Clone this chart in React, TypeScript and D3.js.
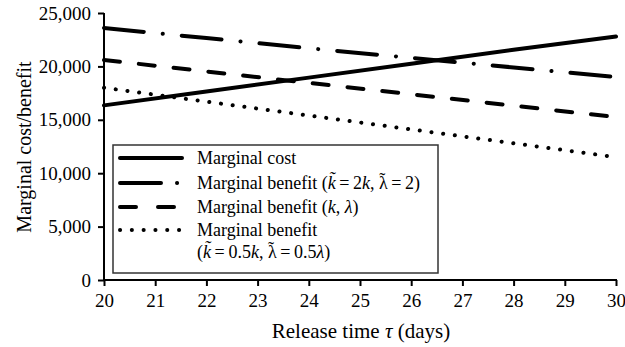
import React, { useRef, useEffect } from "react"
import * as d3 from "d3"

// release time (days)
const days = [20, 22, 24, 26, 28, 30]
const marginalCost = [16350, 17650, 18950, 20250, 21550, 22800]
const benefitHigh = [23600, 22650, 21700, 20800, 19900, 19000]
const benefitBase = [20600, 19530, 18460, 17390, 16320, 15250]
const benefitLow = [18000, 16700, 15400, 14100, 12800, 11500]

const xTicks = [20, 21, 22, 23, 24, 25, 26, 27, 28, 29, 30]
const yTicks = [0, 5000, 10000, 15000, 20000, 25000]

const W = 625
const H = 347
const margin = { left: 104, right: 9, top: 13, bottom: 67 }
const font = "'Liberation Serif', 'Times New Roman', serif"
const th = "\u2009"

// lambda with a tilde placed over it, followed by a thin space back on the baseline
const LambdaTilde = () => (
	<>
		<tspan>λ</tspan>
		<tspan dx={-8.5} dy={-3}>˜</tspan>
		<tspan dx={2.5} dy={3}>{th}</tspan>
	</>
)

const App: React.FunctionComponent = () => {
	const xAxisRef = useRef<any>()
	const yAxisRef = useRef<any>()

	const x = d3.scaleLinear().domain([20, 30]).range([margin.left, W - margin.right])
	const y = d3.scaleLinear().domain([0, 25000]).range([H - margin.bottom, margin.top])

	const line = d3
		.line<number>()
		.x((d, i) => x(days[i]))
		.y((d) => y(d))

	useEffect(() => {
		const xAxis = d3.axisBottom(x).tickValues(xTicks).tickSize(6).tickPadding(8).tickFormat(d3.format("d"))
		const yAxis = d3.axisLeft(y).tickValues(yTicks).tickSize(6).tickPadding(7).tickFormat(d3.format(","))

		const gx = d3.select(xAxisRef.current).call(xAxis)
		const gy = d3.select(yAxisRef.current).call(yAxis)
		for (const g of [gx, gy]) {
			g.selectAll(".tick line").attr("stroke", "#000").attr("stroke-width", 2)
			g.selectAll(".tick text")
				.attr("fill", "#000")
				.style("font-family", font)
				.style("font-size", "19px")
		}
		gx.select(".domain").remove()
		gx.append("line")
			.attr("x1", margin.left - 1).attr("x2", W - margin.right + 1)
			.attr("y1", 0).attr("y2", 0)
			.attr("stroke", "#000").attr("stroke-width", 2)
		gy.select(".domain").remove()
		gy.append("line")
			.attr("x1", 0).attr("x2", 0)
			.attr("y1", margin.top).attr("y2", H - margin.bottom)
			.attr("stroke", "#000").attr("stroke-width", 2)
	}, [])

	const series = [
		{ values: marginalCost, dash: undefined as string | undefined, legendDash: undefined as string | undefined },
		{ values: benefitHigh, dash: "40 19 0.1 19", legendDash: "41 16 0.1 20" },
		{ values: benefitBase, dash: "16 19", legendDash: "16 22" },
		{ values: benefitLow, dash: "0.1 11.7", legendDash: "0.1 11.7" },
	]

	const legendX = 120
	const legendRows = [158, 183, 207, 230]

	return (
		<svg
			width={W}
			height={H}
			style={{ position: "absolute", left: 0, top: 0, background: "#fff" }}
			fontFamily={font}
		>
			{series.map((s, i) => (
				<path
					key={i}
					d={line(s.values) || ""}
					fill="none"
					stroke="#000"
					strokeWidth={4}
					strokeLinecap="round"
					strokeDasharray={s.dash}
				/>
			))}

			<g>
				<rect x={113} y={145} width={325} height={128} fill="#fff" stroke="#333" strokeWidth={1.5} />
				{series.map((s, i) => (
					<line
						key={i}
						x1={legendX}
						x2={legendX + (i === 1 ? 60 : 62)}
						y1={legendRows[i]}
						y2={legendRows[i]}
						stroke="#000"
						strokeWidth={4}
						strokeLinecap="round"
						strokeDasharray={s.legendDash}
					/>
				))}
				<g fontSize={18} fill="#000">
					<text x={197} y={legendRows[0] + 6}>Marginal cost</text>
					<text x={197} y={legendRows[1] + 6}>
						Marginal benefit (<tspan fontStyle="italic">k̃</tspan>{th}={th}2<tspan fontStyle="italic">k</tspan>, <LambdaTilde />={th}2)
					</text>
					<text x={197} y={legendRows[2] + 6}>
						Marginal benefit (<tspan fontStyle="italic">k</tspan>, <tspan fontStyle="italic">λ</tspan>)
					</text>
					<text x={197} y={legendRows[3] + 6}>Marginal benefit</text>
					<text x={197} y={legendRows[3] + 28}>
						(<tspan fontStyle="italic">k̃</tspan>{th}={th}0.5<tspan fontStyle="italic">k</tspan>, <LambdaTilde />={th}0.5<tspan fontStyle="italic">λ</tspan>)
					</text>
				</g>
			</g>

			<g ref={xAxisRef} transform={`translate(0, ${H - margin.bottom})`} />
			<g ref={yAxisRef} transform={`translate(${margin.left}, 0)`} />

			<text x={361} y={338} textAnchor="middle" fontSize={21}>
				Release time <tspan fontStyle="italic">τ</tspan> (days)
			</text>
			<text
				transform={`translate(31, 147) rotate(-90)`}
				textAnchor="middle"
				fontSize={20}
			>
				Marginal cost/benefit
			</text>
		</svg>
	)
}

export default App
